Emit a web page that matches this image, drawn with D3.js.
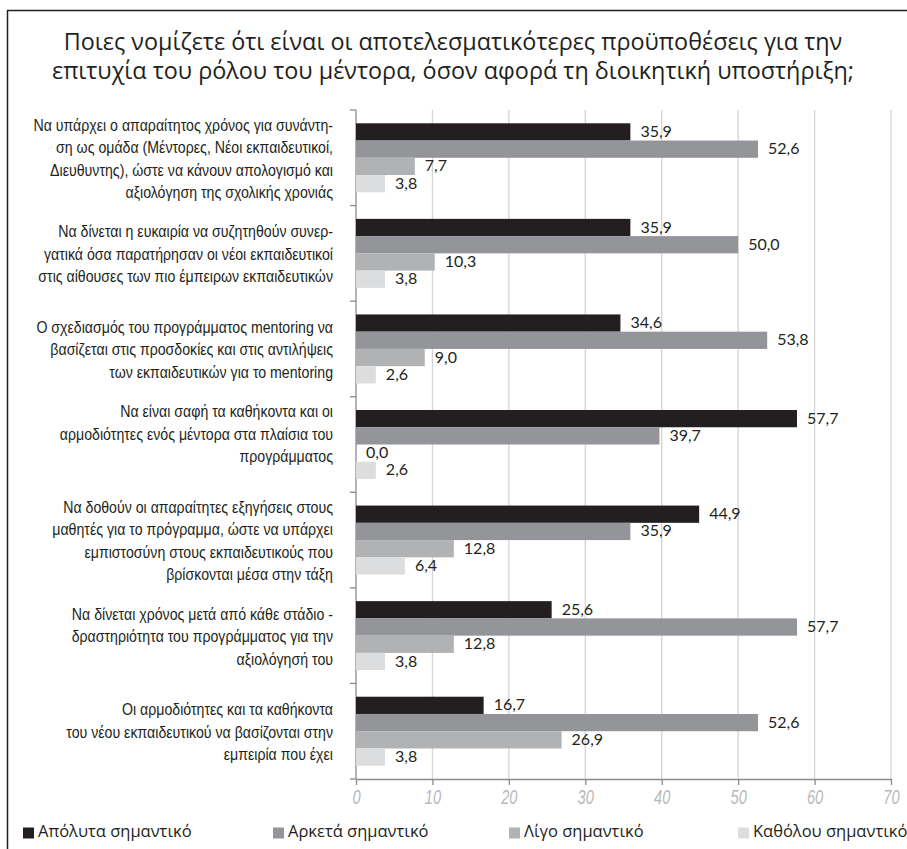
<!DOCTYPE html>
<html>
<head>
<meta charset="utf-8">
<script src="https://cdn.jsdelivr.net/npm/d3@7"></script>
<style>
  html, body { margin: 0; padding: 0; background: #fff; }
  svg { display: block; }
</style>
</head>
<body>
<div id="chart"></div>
<script>
const titleLines = [
  "Ποιες νομίζετε ότι είναι οι αποτελεσματικότερες προϋποθέσεις για την",
  "επιτυχία του ρόλου του μέντορα, όσον αφορά τη διοικητική υποστήριξη;"
];
const categories = [
  ["Να υπάρχει ο απαραίτητος χρόνος για συνάντη-", "ση ως ομάδα (Μέντορες, Νέοι εκπαιδευτικοί,", "Διευθυντης), ώστε να κάνουν απολογισμό και", "αξιολόγηση της σχολικής χρονιάς"],
  ["Να δίνεται η ευκαιρία να συζητηθούν συνερ-", "γατικά όσα παρατήρησαν οι νέοι εκπαιδευτικοί", "στις αίθουσες των πιο έμπειρων εκπαιδευτικών"],
  ["Ο σχεδιασμός του προγράμματος mentoring να", "βασίζεται στις προσδοκίες και στις αντιλήψεις", "των εκπαιδευτικών για το mentoring"],
  ["Να είναι σαφή τα καθήκοντα και οι", "αρμοδιότητες ενός μέντορα στα πλαίσια του", "προγράμματος", ""],
  ["Να δοθούν οι απαραίτητες εξηγήσεις στους", "μαθητές για το πρόγραμμα, ώστε να υπάρχει", "εμπιστοσύνη στους εκπαιδευτικούς που", "βρίσκονται μέσα στην τάξη"],
  ["Να δίνεται χρόνος μετά από κάθε στάδιο -", "δραστηριότητα του προγράμματος για την", "αξιολόγησή του"],
  ["Οι αρμοδιότητες και τα καθήκοντα", "του νέου εκπαιδευτικού να βασίζονται στην", "εμπειρία που έχει"]
];
const seriesNames = ["Απόλυτα σημαντικό", "Αρκετά σημαντικό", "Λίγο σημαντικό", "Καθόλου σημαντικό"];
const seriesColors = ["#231f20", "#939598", "#b1b2b4", "#dcddde"];
const absolutely = [35.9, 35.9, 34.6, 57.7, 44.9, 25.6, 16.7];
const quite      = [52.6, 50.0, 53.8, 39.7, 35.9, 57.7, 52.6];
const little     = [7.7, 10.3, 9.0, 0.0, 12.8, 12.8, 26.9];
const notAtAll   = [3.8, 3.8, 2.6, 2.6, 6.4, 3.8, 3.8];
const xTicks = [0, 10, 20, 30, 40, 50, 60, 70];

const series = [absolutely, quite, little, notAtAll];
const W = 907, H = 849;
const svg = d3.select("#chart").append("svg").attr("width", W).attr("height", H);

// frame
svg.append("line").attr("x1", 7.5).attr("x2", 7.5).attr("y1", 10).attr("y2", H)
  .attr("stroke", "#231f20").attr("stroke-width", 1.5);
svg.append("line").attr("x1", 7).attr("x2", W).attr("y1", 10.5).attr("y2", 10.5)
  .attr("stroke", "#231f20").attr("stroke-width", 1.5);

// title
svg.append("g").selectAll("text").data(titleLines).join("text")
  .attr("x", 453).attr("y", (d, i) => 50 + i * 29)
  .attr("text-anchor", "middle")
  .attr("font-family", "'Open Sans', 'Noto Sans', sans-serif")
  .attr("font-size", 23.4).attr("fill", "#231f20")
  .text(d => d);

const x = d3.scaleLinear().domain([0, 70]).range([356, 891]);
const y0 = d3.scaleBand().domain(d3.range(categories.length)).range([110, 779]).paddingInner(0.278).paddingOuter(0.139);
const y1 = d3.scaleBand().domain(d3.range(series.length)).range([0, y0.bandwidth()]);
const step = y0.step();

// gridlines
svg.append("g").selectAll("line").data(xTicks.filter(t => t > 0)).join("line")
  .attr("x1", d => x(d)).attr("x2", d => x(d)).attr("y1", 110).attr("y2", 779)
  .attr("stroke", "#d4d4d4").attr("stroke-width", 1.3);

// x axis
const xAxis = svg.append("g").attr("transform", "translate(0,779)")
  .call(d3.axisBottom(x).tickValues(xTicks).tickSize(6).tickSizeOuter(0).tickPadding(4));
xAxis.select(".domain").attr("stroke", "#8a8a8a").attr("stroke-width", 1.3);
xAxis.selectAll(".tick line").attr("stroke", "#8a8a8a").attr("stroke-width", 1.3);
xAxis.selectAll(".tick text")
  .attr("font-family", "'Liberation Sans', Arial, sans-serif")
  .attr("font-style", "italic").attr("font-size", 21).attr("fill", "#b9b9b9")
  .attr("transform", "scale(0.7,1)");

// y axis line and category ticks
const yG = svg.append("g");
yG.append("line").attr("x1", 356).attr("x2", 356).attr("y1", 110).attr("y2", 779).attr("stroke", "#8a8a8a").attr("stroke-width", 1.3);
yG.selectAll("line.tk").data(d3.range(categories.length + 1)).join("line").attr("class", "tk")
  .attr("x1", 350).attr("x2", 356)
  .attr("y1", i => 110 + i * step).attr("y2", i => 110 + i * step)
  .attr("stroke", "#8a8a8a").attr("stroke-width", 1.3);

// bars
const fmt = v => d3.format(".1f")(v).replace(".", ",");
const groups = svg.append("g").selectAll("g").data(categories).join("g")
  .attr("transform", (d, i) => `translate(0,${y0(i)})`);
groups.each(function(cat, ci) {
  const g = d3.select(this);
  series.forEach((s, si) => {
    const v = s[ci];
    g.append("rect")
      .attr("x", x(0)).attr("y", y1(si))
      .attr("width", x(v) - x(0)).attr("height", y1.bandwidth())
      .attr("fill", seriesColors[si]);
    g.append("text")
      .attr("x", x(v) + 10).attr("y", y1(si) + y1.bandwidth() / 2 + 1)
      .attr("dominant-baseline", "middle")
      .attr("font-family", "Lato, 'Open Sans', sans-serif")
      .attr("font-size", 16).attr("fill", "#231f20")
      .text(fmt(v));
  });
});

// category labels (condensed look via horizontal scale)
const lineH = 22.5;
const labelG = svg.append("g");
const labels = labelG.selectAll("text").data(categories).join("text")
  .attr("text-anchor", "end")
  .attr("font-family", "'Liberation Sans', Arial, sans-serif")
  .attr("font-size", 17).attr("fill", "#231f20")
  .each(function(lines, i) {
    const cy = 110 + (i + 0.5) * step + 2;
    const top = cy - (lines.length - 1) * lineH / 2;
    d3.select(this).selectAll("tspan").data(lines).join("tspan")
      .attr("x", 0).attr("y", (d, j) => top + j * lineH)
      .attr("dominant-baseline", "middle")
      .text(d => d);
  });
const firstLine = labels.filter((d, i) => i === 0).select("tspan").node();
const k = 300 / firstLine.getComputedTextLength();
labels.attr("transform", `translate(333,0) scale(${k},1)`);

// legend
const legendX = [23, 273, 509, 738];
const lg = svg.append("g").selectAll("g").data(seriesNames).join("g")
  .attr("transform", (d, i) => `translate(${legendX[i]},833)`);
lg.append("rect").attr("x", 0).attr("y", -5.5).attr("width", 11).attr("height", 11).attr("fill", (d, i) => seriesColors[i]);
lg.append("text").attr("x", 15).attr("y", 0).attr("dominant-baseline", "middle")
  .attr("font-family", "'Open Sans', 'Noto Sans', sans-serif")
  .attr("font-size", 16.5).attr("fill", "#231f20")
  .text(d => d);
</script>
</body>
</html>
